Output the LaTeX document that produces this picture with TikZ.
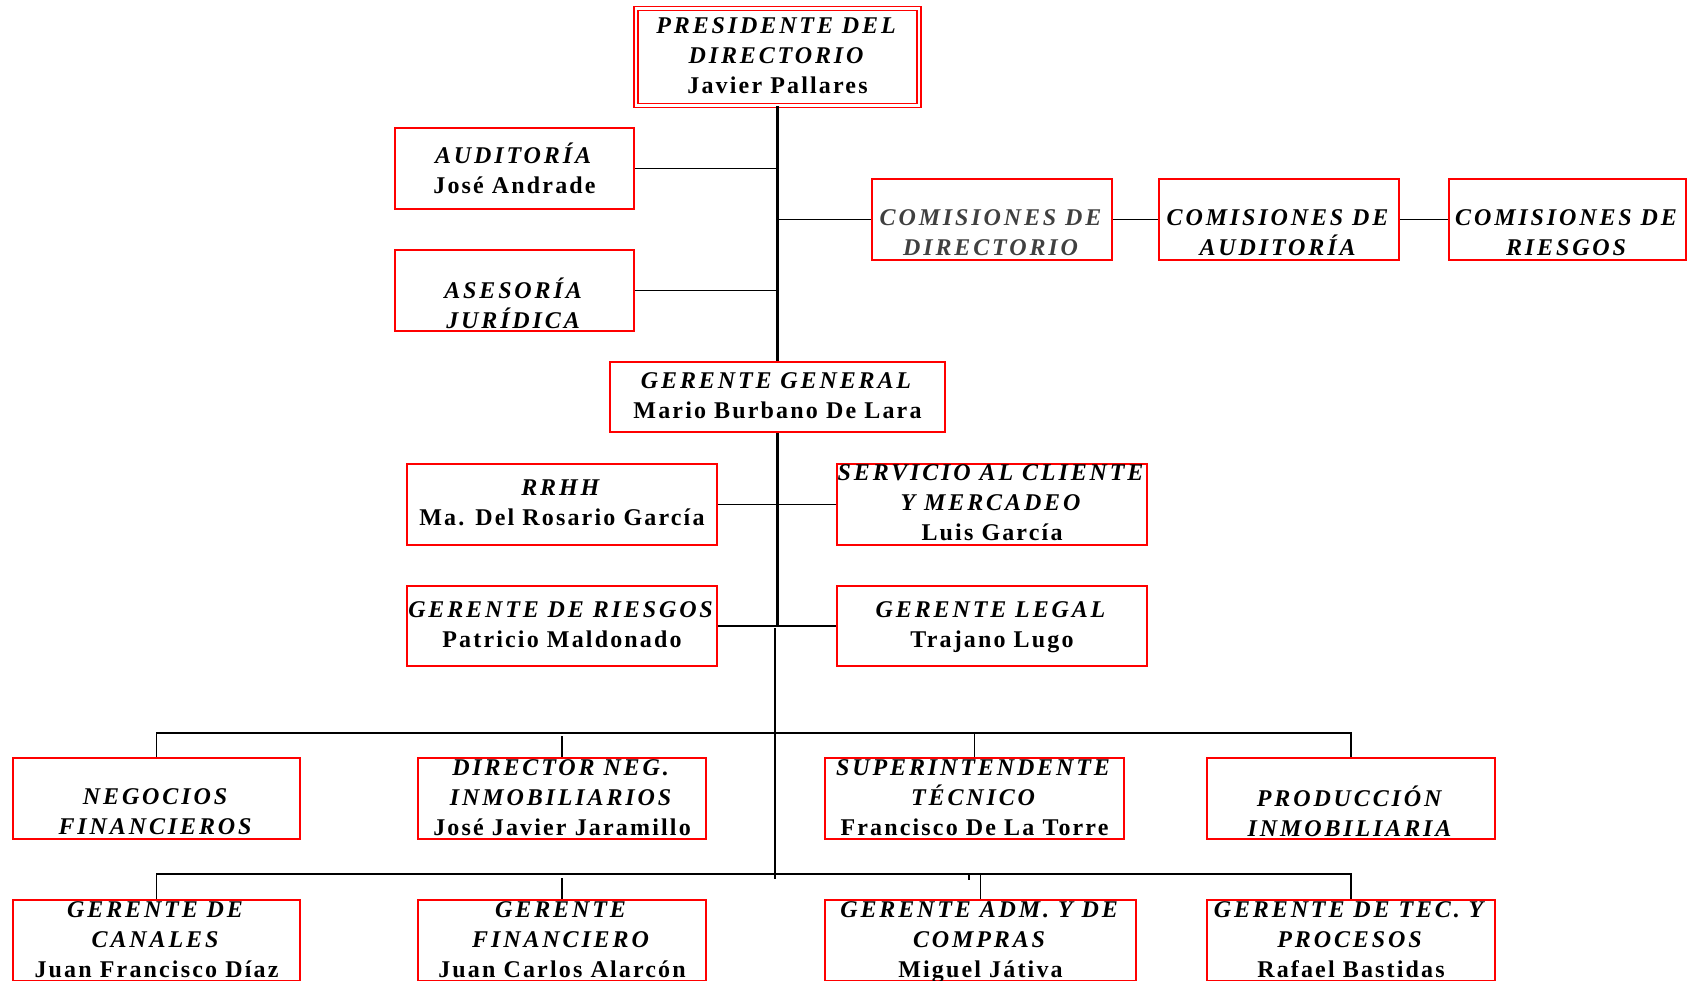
\documentclass[tikz,border=0pt]{standalone}
\usepackage{fontspec}
\setmainfont[LetterSpace=9, BoldItalicFeatures={LetterSpace=12}]{Liberation Serif}
\definecolor{boxred}{RGB}{255,0,0}
\definecolor{softgray}{RGB}{64,64,64}
\tikzset{
  box/.style={draw=boxred, line width=2pt, rectangle, inner sep=0pt},
  txt/.style={align=center, inner sep=0pt, yshift=-2.5pt,
    font=\fontsize{24}{30}\selectfont\bfseries,
    execute at begin node=\rule{0pt}{26pt},
    execute at end node=\rule[-6pt]{0pt}{6pt}},
  link/.style={line width=1.7pt},
  trunk/.style={line width=2.5pt}
}
% \orgbox{name}{cx}{cy}{width}{height}{text cy}{text}
\newcommand\orgbox[7]{%
  \node[box, minimum width=#4pt, minimum height=#5pt] (#1) at (#2,#3) {};
  \node[txt] (#1-t) at (#2,#6) {#7};}
\begin{document}
\begin{tikzpicture}[x=1pt, y=-1pt]
\useasboundingbox (0,0) rectangle (1691,980);
\clip (0,0) rectangle (1691,980);

% board level
\node[box, line width=1.5pt, double=white, double distance=2.5pt,
      minimum width=283pt, minimum height=97pt] (pres) at (777.5,57) {};
\node[txt] (pres-t) at (777.5,56)
  {\textit{PRESIDENTE DEL}\\\textit{DIRECTORIO}\\Javier Pallares};

\orgbox{aud}{514.5}{168.5}{239}{81}{168.5}{\textit{AUDITORÍA}\\José Andrade}
\orgbox{ase}{514.5}{290.5}{239}{81}{304}{\textit{ASESORÍA}\\\textit{JURÍDICA}}
\orgbox{comdir}{992}{219.5}{240}{81}{233.5}{\color{softgray}\textit{COMISIONES DE}\\\color{softgray}\textit{DIRECTORIO}}
\orgbox{comaud}{1279}{219.5}{240}{81}{233.5}{\textit{COMISIONES DE}\\\textit{AUDITORÍA}}
\orgbox{comries}{1567.5}{219.5}{237}{81}{233.5}{\textit{COMISIONES DE}\\\textit{RIESGOS}}

% general management
\orgbox{gg}{777.5}{397}{335}{70}{396.5}{\textit{GERENTE GENERAL}\\Mario Burbano De Lara}
\orgbox{rrhh}{562}{504.5}{310}{81}{503}{\textit{RRHH}\\Ma. Del Rosario García}
\orgbox{serv}{992}{504.5}{310}{81}{503}{\textit{SERVICIO AL CLIENTE}\\\textit{Y MERCADEO}\\Luis García}
\orgbox{ries}{562}{626}{310}{80}{625}{\textit{GERENTE DE RIESGOS}\\Patricio Maldonado}
\orgbox{legal}{992}{626}{310}{80}{625}{\textit{GERENTE LEGAL}\\Trajano Lugo}

% first row of units
\orgbox{neg}{156.5}{798.5}{287}{81}{812}{\textit{NEGOCIOS}\\\textit{FINANCIEROS}}
\orgbox{dir}{562}{798.5}{288}{81}{798}{\textit{DIRECTOR NEG.}\\\textit{INMOBILIARIOS}\\José Javier Jaramillo}
\orgbox{sup}{974.5}{798.5}{299}{81}{798}{\textit{SUPERINTENDENTE}\\\textit{TÉCNICO}\\Francisco De La Torre}
\orgbox{prod}{1351}{798.5}{288}{81}{812}{\textit{PRODUCCIÓN}\\\textit{INMOBILIARIA}}

% second row of units
\orgbox{can}{156.5}{940.5}{287}{81}{940}{\textit{GERENTE DE}\\\textit{CANALES}\\Juan Francisco Díaz}
\orgbox{fin}{562}{940.5}{288}{81}{940}{\textit{GERENTE}\\\textit{FINANCIERO}\\Juan Carlos Alarcón}
\orgbox{adm}{980.5}{940.5}{311}{81}{940}{\textit{GERENTE ADM. Y DE}\\\textit{COMPRAS}\\Miguel Játiva}
\orgbox{tec}{1351}{940.5}{288}{81}{940}{\textit{GERENTE DE TEC. Y}\\\textit{PROCESOS}\\Rafael Bastidas}

% connectors: board
\draw[trunk] (pres.south) -- (gg.north);
\draw[link] (aud.east) -- (aud.east -| pres.south);
\draw[link] (ase.east) -- (ase.east -| pres.south);
\draw[link] (comdir.west) -- (comdir.west -| pres.south);
\draw[link] (comdir.east) -- (comaud.west);
\draw[link] (comaud.east) -- (comries.west);

% connectors: general management
\draw[trunk] (gg.south) -- (gg.south |- ries.east);
\draw[link] (rrhh.east) -- (serv.west);
\draw[link] (ries.east) -- (legal.west);

% lower trunk and buses
\coordinate (tTop) at (775,628);
\coordinate (tBot) at (775,879);
\coordinate (bus1) at (775,733);
\coordinate (bus2) at (775,874);
\draw[trunk] (tTop) -- (tBot);
\draw[link] (neg.north) |- (bus1) -| (prod.north);
\draw[link] (dir.north) -- ++(0,-21);
\draw[link] (sup.north) -- (sup.north |- bus1);
\draw[link] (can.north) |- (bus2) -| (tec.north);
\draw[link] (fin.north) -- ++(0,-21);
\draw[link] (adm.north) -- (adm.north |- bus2);
\draw[link] ([xshift=-11.5pt]adm.north |- bus2) -- ++(0,6);
\end{tikzpicture}
\end{document}
